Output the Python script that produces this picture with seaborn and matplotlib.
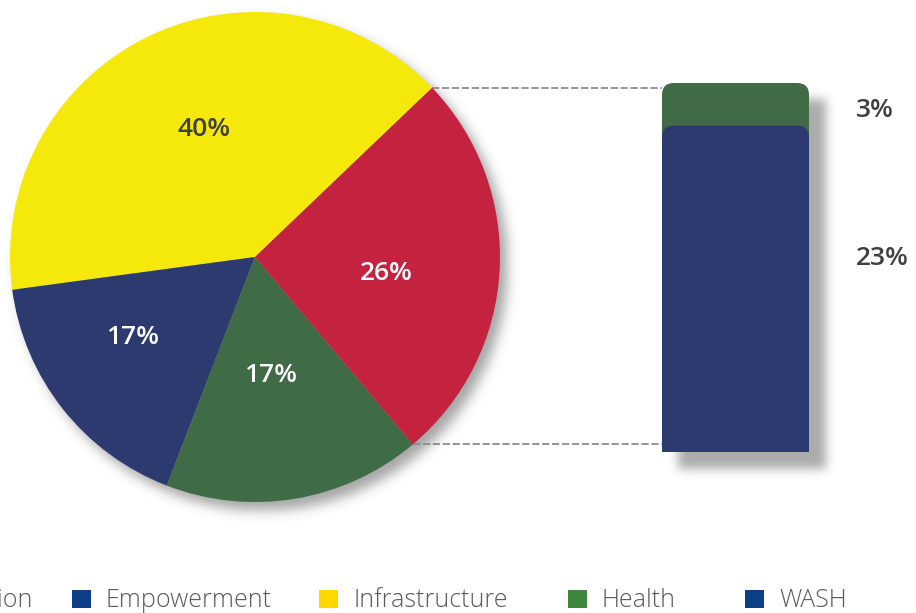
import numpy as np
import matplotlib
matplotlib.use("Agg")
import matplotlib.pyplot as plt
import seaborn as sns
import pandas as pd
from matplotlib.patches import FancyBboxPatch, Patch

# ---------------- data ----------------
pie_labels = ["Infrastructure", "Empowerment", "Health", "Other"]
pie_values = [40, 17, 17, 26]
pie_colors = ["#f5e90c", "#2c3a6f", "#3f6b46", "#c42340"]

bar_labels = ["WASH", "Health"]
bar_values = [23, 3]
bar_colors = ["#2c3a6f", "#416b47"]
bar_texts = ["23%", "3%"]

legend_labels = ["Education", "Empowerment", "Infrastructure", "Health", "WASH"]
legend_colors = ["#c0504d", "#0d3f87", "#ffd800", "#3f873c", "#0d3f87"]

# ---------------- layout ----------------
W, H = 916, 613
sns.set_theme(style="white")
plt.rcParams['font.family'] = ['Open Sans', 'DejaVu Sans']

fig = plt.figure(figsize=(W / 100, H / 100), dpi=100)
fig.patch.set_facecolor('white')
ax = fig.add_axes([0, 0, 1, 1])

PIE_CENTER = (255, 356)
PIE_R = 245
wedges, texts, autotexts = ax.pie(
    pie_values, colors=pie_colors, startangle=43.7, counterclock=True,
    center=PIE_CENTER, radius=PIE_R,
    autopct=lambda p: f"{p:.0f}%", pctdistance=0.56,
    wedgeprops=dict(linewidth=0, zorder=2),
    textprops=dict(fontsize=19, fontweight='semibold', color='white', zorder=4))
autotexts[0].set_color('#404040')
# label anchor points (pixels from top-left), as placed in the reference
label_px = [(204, 129), (133, 337), (271, 375), (386, 274)]
for t, (lx, ly) in zip(autotexts, label_px):
    t.set_position((lx, H - ly))
    t.set_zorder(4)

# bar axes (the "pie of pie" breakdown)
bx0, by0, bw, bh = 662, 161, 147, 369
ax2 = fig.add_axes([bx0 / W, by0 / H, bw / W, bh / H])
ax2.patch.set_alpha(0)
total = float(np.sum(bar_values))
cum = np.cumsum(bar_values)
for val, col in reversed(list(zip(cum, bar_colors))):
    sns.barplot(x=["Other"], y=[val], color=col, width=1, saturation=1,
                errorbar=None, ax=ax2)
ax2.set_xlim(-0.5, 0.5)
ax2.set_ylim(0, total)
ax2.axis('off')

# rounded tops
rpx = 12
px_x = bw / 1.0
px_y = bh / total
ext = rpx / px_y
for p in list(ax2.patches):
    x, y = p.get_x(), p.get_y()
    w, h = p.get_width(), p.get_height()
    fb = FancyBboxPatch((x, y - ext), w, h + ext,
                        boxstyle=f"round,pad=0,rounding_size={rpx / px_x}",
                        mutation_aspect=px_x / px_y,
                        fc=p.get_facecolor(), ec='none', zorder=p.get_zorder())
    ax2.add_patch(fb)
    fb.set_clip_path(ax2.patch)
    p.set_visible(False)

# bar labels
ax2.text((856 - bx0) / bw, 0.925, bar_texts[1],
         transform=ax2.transAxes, ha='left', va='center', fontsize=19,
         fontweight='semibold', color='#404040', clip_on=False)
ax2.text((856 - bx0) / bw, 0.525, bar_texts[0],
         transform=ax2.transAxes, ha='left', va='center', fontsize=19,
         fontweight='semibold', color='#404040', clip_on=False)

# ---------------- soft shadows ----------------
def blur(a, s):
    r = int(3 * s)
    k = np.exp(-0.5 * (np.arange(-r, r + 1) / s) ** 2)
    k /= k.sum()
    a = np.apply_along_axis(lambda m: np.convolve(m, k, 'same'), 0, a)
    a = np.apply_along_axis(lambda m: np.convolve(m, k, 'same'), 1, a)
    return a

yy, xx = np.mgrid[0:H, 0:W]
cx, cy = PIE_CENTER[0], H - PIE_CENTER[1]
m1 = (((xx - cx - 7) ** 2 + (yy - cy - 8) ** 2) <= PIE_R ** 2).astype(float)
off = 16
m2 = ((xx >= bx0 + off) & (xx <= bx0 + bw + off) &
      (yy >= H - (by0 + bh) + off) & (yy <= H - by0 + off)).astype(float)
shadow = np.maximum(blur(m1, 6) * 0.45, blur(m2, 5) * 0.42)
rgba = np.zeros((H, W, 4))
rgba[..., :3] = 0.22
rgba[..., 3] = shadow
ax.imshow(rgba, extent=(0, W, 0, H), origin='upper', zorder=0,
          interpolation='bilinear')

# dashed connector lines
red = wedges[3]
for ang in (red.theta2, red.theta1):
    px = PIE_CENTER[0] + PIE_R * np.cos(np.radians(ang))
    py = PIE_CENTER[1] + PIE_R * np.sin(np.radians(ang))
    ax.plot([px, bx0], [py, py], ls=(0, (4, 1.5)), color='#8c8c8c', lw=1.3,
            zorder=1)

ax.set_xlim(0, W)
ax.set_ylim(0, H)
ax.set_aspect('auto')
ax.axis('off')

# ---------------- legend (one entry per column slot) ----------------
marker_x = [None, 72, 319, 568, 745]   # left edge of legend squares (px)
first_text_end = 33                    # first entry is cut by the left edge
marker_bottom = 5
r = fig.canvas.get_renderer()
for lab, col, mx in zip(legend_labels, legend_colors, marker_x):
    leg = fig.legend([Patch(facecolor=col, edgecolor='none')], [lab],
                     loc='lower left', bbox_to_anchor=(0, 0), frameon=False,
                     prop=dict(family='Open Sans', size=18, weight='light'),
                     labelcolor='#595959', handlelength=0.76, handleheight=0.76,
                     handletextpad=0.6, borderaxespad=0, borderpad=0)
    fig.canvas.draw()
    hb = leg.legend_handles[0].get_window_extent(r)
    if mx is None:
        tb = leg.get_texts()[0].get_window_extent(r)
        dx = first_text_end - tb.x1
    else:
        dx = mx - hb.x0
    dy = marker_bottom - hb.y0
    leg.set_bbox_to_anchor((dx / W, dy / H), transform=fig.transFigure)

fig.savefig("out.png", dpi=100, facecolor='white')
